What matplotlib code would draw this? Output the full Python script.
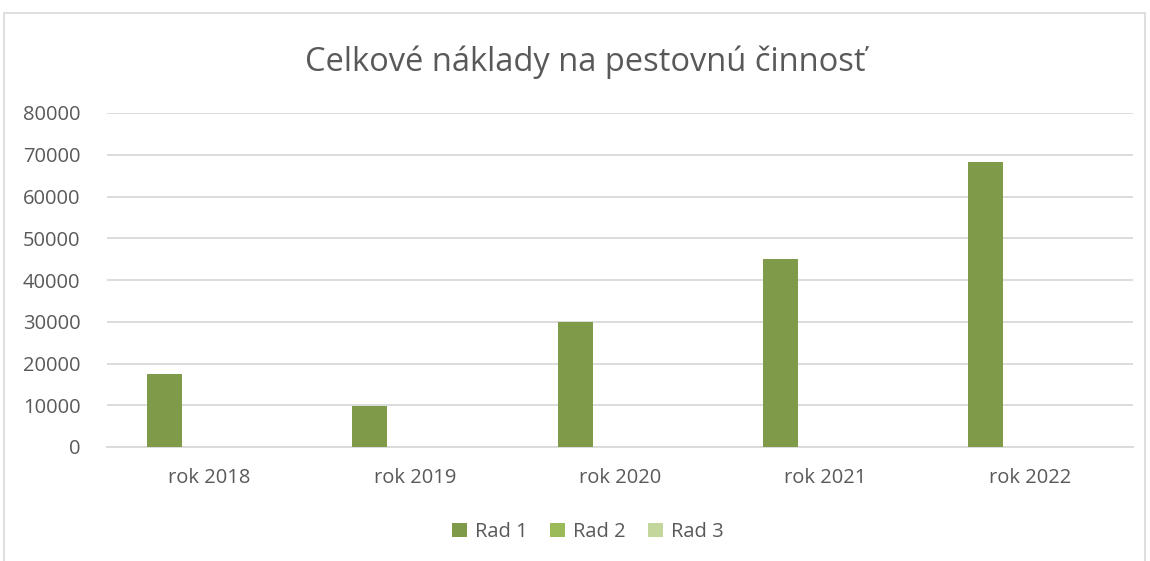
import matplotlib
matplotlib.use("Agg")
import matplotlib.pyplot as plt
from matplotlib.patches import Rectangle, Patch
import numpy as np

categories = ["rok 2018", "rok 2019", "rok 2020", "rok 2021", "rok 2022"]
rad1 = [17500, 9800, 30000, 45000, 68300]
rad2 = [0, 0, 0, 0, 0]
rad3 = [0, 0, 0, 0, 0]
series_names = ["Rad 1", "Rad 2", "Rad 3"]
colors = ["#7F9A48", "#9BBB59", "#C3D69B"]
title = "Celkové náklady na pestovnú činnosť"
yticks = list(range(0, 80001, 10000))

plt.rcParams['font.family'] = ['Open Sans', 'DejaVu Sans']

fig = plt.figure(figsize=(11.5, 5.61), dpi=100)
fig.patches.append(Rectangle((4/1150, -0.05), 1141/1150, 1 - 13/561 + 0.05,
                             transform=fig.transFigure, fill=False,
                             edgecolor="#D9D9D9", linewidth=1.2, zorder=0))
ax = fig.add_axes([107/1150, 1 - 447/561, (1133 - 107)/1150, (447 - 113)/561])

x = np.arange(len(categories))
width = 0.171
spacing = 0.219
for k, (vals, name, col) in enumerate(zip([rad1, rad2, rad3], series_names, colors)):
    ax.bar(x + (k - 1) * spacing, vals, width=width, color=col, label=name, zorder=3)

ax.set_xlim(-0.5, len(categories) - 0.5)
ax.set_ylim(0, 80000)
ax.set_yticks(yticks)
ax.set_yticklabels([str(v) for v in yticks])
ax.set_xticks(x)
ax.set_xticklabels(categories)
ax.tick_params(axis='both', length=0, labelsize=14.5, labelcolor="#595959")
ax.tick_params(axis='y', pad=19)
ax.tick_params(axis='x', pad=15)
ax.grid(axis='y', color="#D9D9D9", linewidth=1.3, zorder=0)
for s in ["top", "right", "left"]:
    ax.spines[s].set_visible(False)
ax.spines["bottom"].set_color("#D9D9D9")
ax.spines["bottom"].set_linewidth(1.3)

fig.text(585/1150, 1 - 62/561, title, ha="center", va="center",
         fontsize=23.5, color="#595959")

handles = [Patch(facecolor=c, label=n) for c, n in zip(colors, series_names)]
fig.legend(handles=handles, loc="center", bbox_to_anchor=(588/1150, 1 - 532/561),
           ncol=3, frameon=False, fontsize=14.5, labelcolor="#595959",
           handlelength=0.75, handleheight=0.75, handletextpad=0.4, columnspacing=1.1)

fig.savefig("out.png", dpi=100, facecolor="white")
